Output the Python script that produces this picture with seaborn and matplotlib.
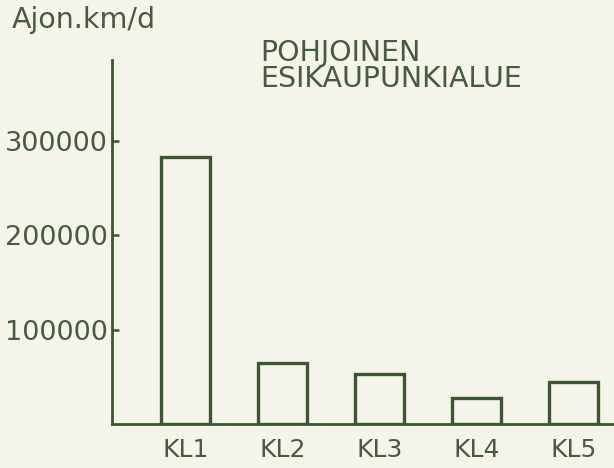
import matplotlib
matplotlib.use("Agg")
import matplotlib.pyplot as plt
import seaborn as sns

# Ajoneuvokilometrit / vrk, pohjoinen esikaupunkialue
luokat = ["KL1", "KL2", "KL3", "KL4", "KL5"]
ajonkm = [283000, 65000, 53000, 27500, 44500]
yticks = [100000, 200000, 300000]

vari = "#3d5533"
tekstivari = "#485a40"
tausta = "#f5f4ea"

sns.set_theme(style="white")
plt.rcParams["font.family"] = ["DejaVu Sans"]

fig = plt.figure(figsize=(6.14, 4.68), dpi=100, facecolor=tausta)
ax = fig.add_axes([0.1824, 0.094, 0.8176, 0.778])
ax.set_facecolor(tausta)

sns.barplot(x=luokat, y=ajonkm, ax=ax, fill=False, color=vari,
            linewidth=2.4, width=0.5)

ax.set_xlim(-0.76, 4.42)
ax.set_ylim(0, 386000)
ax.set_yticks(yticks)
ax.set_yticklabels([str(v) for v in yticks])

for s in ["top", "right"]:
    ax.spines[s].set_visible(False)
for s in ["left", "bottom"]:
    ax.spines[s].set_color(vari)
    ax.spines[s].set_linewidth(2.0)

ax.tick_params(axis="y", direction="in", length=5, width=1.8, color=vari,
               pad=3, labelsize=19.5, labelcolor=tekstivari, left=True)
ax.tick_params(axis="x", length=0, pad=10, labelsize=18,
               labelcolor=tekstivari)
ax.set_xlabel("")
ax.set_ylabel("")

fig.text(12 / 614, 1 - 28 / 468, "Ajon.km/d", fontsize=20.5,
         color=tekstivari, va="baseline", ha="left")
fig.text(260 / 614, 1 - 61 / 468, "POHJOINEN", fontsize=20.5,
         color=tekstivari, va="baseline", ha="left")
fig.text(260 / 614, 1 - 87 / 468, "ESIKAUPUNKIALUE", fontsize=20.5,
         color=tekstivari, va="baseline", ha="left")

plt.savefig("out.png", dpi=100, facecolor=tausta)
plt.close()
